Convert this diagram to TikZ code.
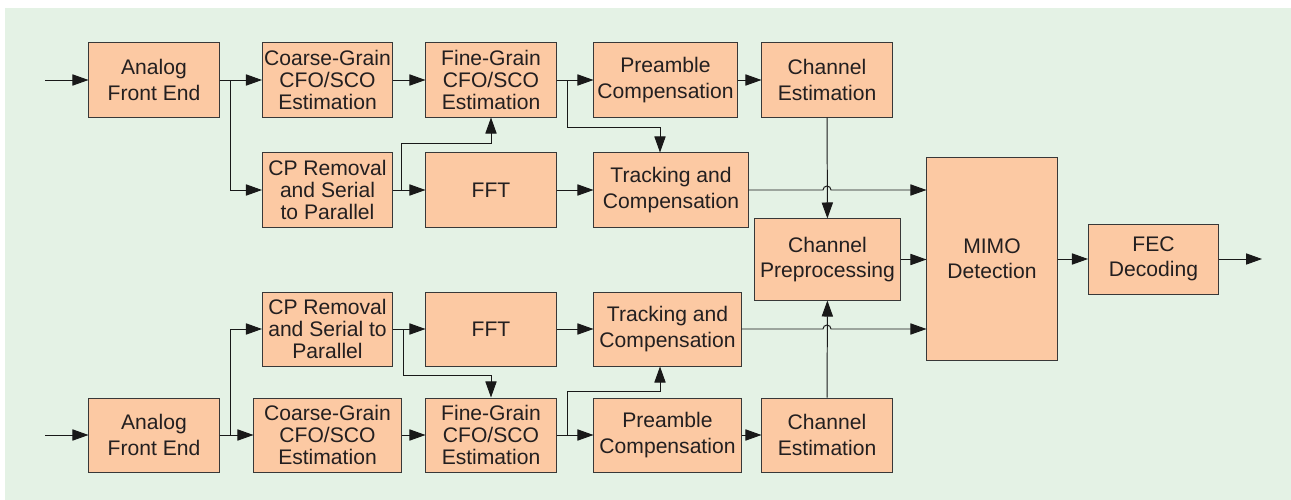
\documentclass[tikz,border=0pt]{standalone}
\usepackage{fontspec}
\setmainfont{Liberation Sans}
\usetikzlibrary{arrows.meta,calc}

\definecolor{bgGreen}{HTML}{E4F2E5}
\definecolor{blockFill}{HTML}{FCC9A3}
\definecolor{blockLine}{HTML}{383838}
\definecolor{blockText}{HTML}{231F20}

\tikzset{
    block/.style={draw=blockLine, fill=blockFill, line width=0.7pt, align=center, inner sep=0pt,
        minimum width=3.25cm, minimum height=1.85cm, text=blockText, font=\fontsize{15}{18}\selectfont},
    tight/.style={font=\fontsize{15}{15.5}\selectfont},
    arr/.style={-{Triangle[length=0.4cm,width=0.28cm]}, line width=0.7pt, draw=black!90}
}

\begin{document}
\begin{tikzpicture}[x=0.025cm, y=-0.025cm]
            \fill [bgGreen] (5,8) rectangle (1291,500);
            \useasboundingbox (0,0) rectangle (1291,500);

            % first receive chain
            \node [block] (afe1) at (154,80) {Analog\\Front End};
            \node [block, tight] (coarse1) at (327.5,80) {Coarse-Grain\\CFO/SCO\\Estimation};
            \node [block, tight] (fine1) at (491,80) {Fine-Grain\\CFO/SCO\\Estimation};
            \node [block, minimum width=3.575cm] (pre1) at (665.5,80) {Preamble\\Compensation};
            \node [block] (chest1) at (827,80) {Channel\\Estimation};
            \node [block, tight] (cp1) at (327.5,190) {CP Removal\\and Serial\\to Parallel};
            \node [block] (fft1) at (491,190) {FFT};
            \node [block, minimum width=3.85cm] (track1) at (671,190) {Tracking and\\Compensation};

            % shared back end
            \node [block, minimum width=3.625cm, minimum height=2.025cm] (preproc) at (827.5,259.5) {Channel\\Preprocessing};
            \node [block, minimum height=5.05cm] (mimo) at (992,259) {MIMO\\Detection};
            \node [block, minimum height=1.75cm] (fec) at (1153.5,259) {FEC\\Decoding};

            % second receive chain
            \node [block, tight] (cp2) at (327.5,329) {CP Removal\\and Serial to\\Parallel};
            \node [block] (fft2) at (491,329) {FFT};
            \node [block, minimum width=3.675cm] (track2) at (667.5,329) {Tracking and\\Compensation};
            \node [block] (afe2) at (154,435) {Analog\\Front End};
            \node [block, tight, minimum width=3.675cm] (coarse2) at (327.5,435) {Coarse-Grain\\CFO/SCO\\Estimation};
            \node [block, tight] (fine2) at (491,435) {Fine-Grain\\CFO/SCO\\Estimation};
            \node [block, minimum width=3.675cm] (pre2) at (667.5,435) {Preamble\\Compensation};
            \node [block] (chest2) at (827,435) {Channel\\Estimation};

            \coordinate (in1) at (45,80);
            \coordinate (in2) at (45,435);
            \coordinate (out) at (1262,259);

            \draw [arr] (in1) -- (afe1);
            \draw [arr] (afe1) -- (coarse1);
            \draw [arr] (afe1.east) -- ++(11,0) |- (cp1.west);
            \draw [arr] (coarse1) -- (fine1);
            \draw [arr] (cp1) -- (fft1);
            \draw [arr] (cp1.east) -- ++(8,0) -- ++(0,-47) -| (fine1.south);
            \draw [arr] (fine1) -- (pre1);
            \draw [arr] (fine1.east) -- ++(11,0) -- ++(0,47) -| ($(track1.north)+(-11,0)$);
            \draw [arr] (pre1) -- (chest1);
            \draw [arr] (fft1) -- (track1);
            \draw [arr] (chest1) -- (preproc);
            \draw [arr] (track1.east) -- ($(chest1.south |- track1.east)+(-4,0)$)
                arc [start angle=180, end angle=0, radius=0.1cm] -- (track1.east -| mimo.west);

            \draw [arr] (in2) -- (afe2);
            \draw [arr] (afe2) -- (coarse2);
            \draw [arr] (afe2.east) -- ++(11,0) |- (cp2.west);
            \draw [arr] (coarse2) -- (fine2);
            \draw [arr] (cp2) -- (fft2);
            \draw [arr] (cp2.east) -- ++(10,0) -- ++(0,46) -| (fine2.north);
            \draw [arr] (fine2) -- (pre2);
            \draw [arr] (fine2.east) -- ++(11,0) -- ++(0,-44) -| ($(track2.south)+(-7.5,0)$);
            \draw [arr] (pre2) -- (chest2);
            \draw [arr] (fft2) -- (track2);
            \draw [arr] (chest2) -- (preproc);
            \draw [arr] (track2.east) -- ($(chest2.north |- track2.east)+(-4,0)$)
                arc [start angle=180, end angle=0, radius=0.1cm] -- (track2.east -| mimo.west);

            \draw [arr] (preproc) -- (mimo.west |- preproc);
            \draw [arr] (mimo.east |- fec) -- (fec);
            \draw [arr] (fec) -- (out);
        \end{tikzpicture}
\end{document}
